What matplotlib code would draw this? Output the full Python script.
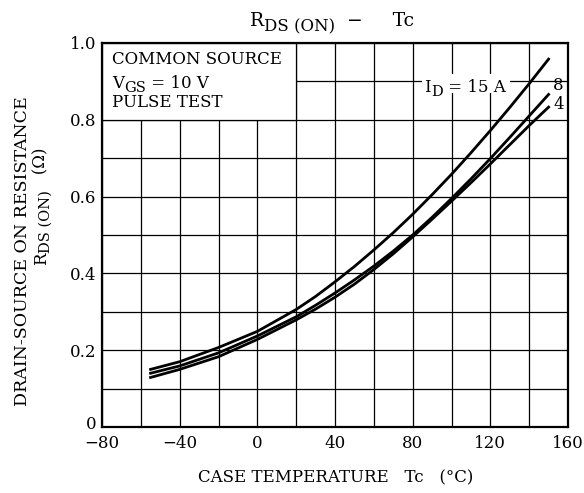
import numpy as np
import matplotlib
matplotlib.use("Agg")
import matplotlib.pyplot as plt
import matplotlib.transforms as mtransforms
from matplotlib.patches import Rectangle

# Case temperature, °C
tc = [-55, -40, -20, 0, 20, 30, 40, 50, 60, 70, 80, 90, 100, 110, 120, 130, 140, 150]

# Drain-source on resistance, ohm, for each drain current
r_15a = [0.150, 0.170, 0.207, 0.249, 0.306, 0.340, 0.378, 0.418, 0.461, 0.506,
         0.554, 0.605, 0.658, 0.714, 0.772, 0.832, 0.894, 0.958]
r_8a = [0.140, 0.159, 0.193, 0.237, 0.287, 0.317, 0.349, 0.383, 0.419, 0.458,
        0.500, 0.546, 0.595, 0.646, 0.699, 0.754, 0.810, 0.866]
r_4a = [0.129, 0.150, 0.183, 0.228, 0.279, 0.307, 0.338, 0.372, 0.410, 0.451,
        0.495, 0.541, 0.588, 0.636, 0.685, 0.735, 0.785, 0.833]

x_ticks = [-80, -40, 0, 40, 80, 120, 160]
x_tick_labels = ["\u221280", "\u221240", "0", "40", "80", "120", "160"]
y_ticks = [0, 0.2, 0.4, 0.6, 0.8, 1.0]
y_tick_labels = ["0", "0.2", "0.4", "0.6", "0.8", "1.0"]

plt.rcParams['font.family'] = ['DejaVu Serif']
FS = 12
SUB = 10.5

fig = plt.figure(figsize=(5.84, 4.93), dpi=100)
ax = fig.add_axes([0.1747, 0.1339, 0.7979, 0.7789])

ax.set_xlim(-80, 160)
ax.set_ylim(0, 1.0)

# grid every 20 degC and every 0.1 ohm
ax.set_xticks(np.arange(-80, 161, 20), minor=True)
ax.set_yticks(np.arange(0, 1.01, 0.1), minor=True)
ax.set_xticks(x_ticks)
ax.set_xticklabels(x_tick_labels, fontsize=FS)
ax.set_yticks(y_ticks)
ax.set_yticklabels(y_tick_labels, fontsize=FS)
ax.grid(which='both', color='black', linewidth=0.9, zorder=1)
ax.set_axisbelow(True)
ax.tick_params(which='both', length=0)
ax.tick_params(axis='x', pad=6)
ax.tick_params(axis='y', pad=4)
for s in ax.spines.values():
    s.set_linewidth(1.6)
    s.set_zorder(5)

# the "0" on the y axis sits a little higher, clear of "-80"
lbl0 = ax.get_yticklabels()[0]
lbl0.set_transform(lbl0.get_transform() +
                   mtransforms.ScaledTranslation(0, 3 / 72, fig.dpi_scale_trans))


def sub_text(first, parts, drop=3.0, rotated=False):
    # chain of text pieces; parts = [(text, size, is_sub), ...]
    prev = first
    prev_sub = False
    for txt, size, is_sub in parts:
        shift = 0.0
        if is_sub and not prev_sub:
            shift = -drop
        elif prev_sub and not is_sub:
            shift = drop
        if rotated:
            prev = ax.annotate(txt, xy=(1, 1), xycoords=prev, xytext=(-shift, 0),
                               textcoords='offset points', fontsize=size,
                               rotation=90, ha='right', va='bottom',
                               annotation_clip=False)
        else:
            prev = ax.annotate(txt, xy=(1, 0), xycoords=prev, xytext=(0, shift),
                               textcoords='offset points', fontsize=size,
                               ha='left', va='bottom', zorder=6,
                               annotation_clip=False)
        prev_sub = is_sub
    return prev


# text box in the upper left corner
ax.add_patch(Rectangle((-80, 0.8), 100, 0.2, facecolor='white',
                       edgecolor='black', linewidth=0.9, zorder=2))
ax.text(-75, 0.958, "COMMON SOURCE", fontsize=FS, va='center', zorder=3)
t = ax.text(-75, 0.883, "V", fontsize=FS, va='baseline', zorder=3)
sub_text(t, [("GS", SUB, True), (" = 10 V", FS, False)], drop=2.5)
ax.text(-75, 0.845, "PULSE TEST", fontsize=FS, va='center', zorder=3)

# curves
for r in (r_15a, r_8a, r_4a):
    ax.plot(tc, r, color='black', linewidth=2.0, zorder=4)

ax.add_patch(Rectangle((85, 0.87), 45, 0.05, facecolor='white',
                       edgecolor='none', zorder=2))
t = ax.text(86, 0.873, "I", fontsize=FS, va='baseline', zorder=3)
sub_text(t, [("D", SUB, True), (" = 15 A", FS, False)], drop=2.5)
ax.text(152.3, 0.888, "8", fontsize=FS, va='center', zorder=6)
ax.text(152.3, 0.840, "4", fontsize=FS, va='center', zorder=6)

# title
t = fig.text(0.428, 0.947, "R", fontsize=13.5, va='baseline')
sub_text(t, [("DS (ON)", 12, True), ("  \u2212     Tc", 13.5, False)], drop=3.5)

fig.text(0.574, 0.03, "CASE TEMPERATURE   Tc   (\u00b0C)", fontsize=FS,
         ha='center', va='center')
fig.text(0.038, 0.49, "DRAIN-SOURCE ON RESISTANCE", fontsize=12.5, rotation=90,
         ha='center', va='center')
t = fig.text(0.085, 0.462, "R", fontsize=FS, rotation=90, ha='right', va='bottom')
sub_text(t, [("DS (ON)", SUB, True), ("   (\u03a9)", FS, False)], drop=2.5, rotated=True)

plt.savefig('out.png', dpi=100)
